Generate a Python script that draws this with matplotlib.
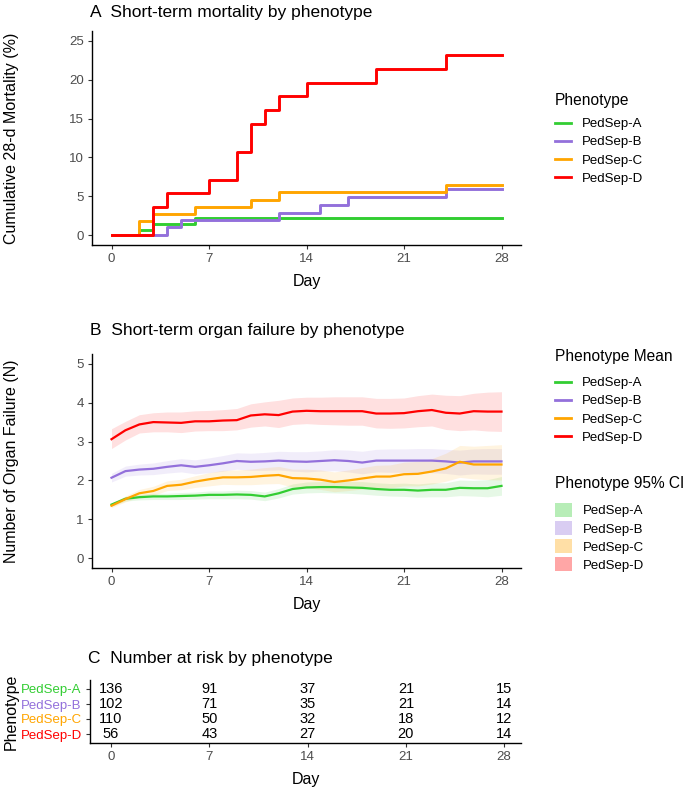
import matplotlib
matplotlib.use("Agg")
import matplotlib.pyplot as plt
from matplotlib.lines import Line2D
from matplotlib.patches import Patch

plt.rcParams['font.family'] = ['Liberation Sans', 'DejaVu Sans']

phenotypes = ["PedSep-A", "PedSep-B", "PedSep-C", "PedSep-D"]
colors = ["#32CD32", "#9370DB", "#FFA500", "#FF0000"]

# A: cumulative 28-day mortality (%), step changes
mort_days = [
    [0, 2, 3, 6, 28],
    [0, 4, 5, 12, 15, 17, 24, 28],
    [0, 2, 3, 6, 10, 12, 24, 28],
    [0, 3, 4, 7, 9, 10, 11, 12, 14, 19, 24, 28],
]
mort_pct = [
    [0, 0.7, 1.5, 2.2, 2.2],
    [0, 1.0, 2.0, 2.9, 3.9, 4.9, 5.9, 5.9],
    [0, 1.8, 2.7, 3.6, 4.5, 5.5, 6.4, 6.4],
    [0, 3.6, 5.4, 7.1, 10.7, 14.3, 16.1, 17.9, 19.6, 21.4, 23.2, 23.2],
]

# B: mean number of organ failures with 95% CI, days 0..28
days = list(range(29))
of_mean = [
    [1.38, 1.53, 1.57, 1.59, 1.59, 1.60, 1.61, 1.63, 1.63, 1.64, 1.63, 1.59, 1.67, 1.78, 1.82,
     1.83, 1.83, 1.82, 1.81, 1.78, 1.76, 1.76, 1.74, 1.76, 1.76, 1.81, 1.80, 1.80, 1.86],
    [2.07, 2.24, 2.28, 2.30, 2.35, 2.39, 2.35, 2.39, 2.44, 2.50, 2.48, 2.49, 2.51, 2.49, 2.48,
     2.50, 2.52, 2.50, 2.46, 2.51, 2.51, 2.51, 2.51, 2.51, 2.49, 2.46, 2.49, 2.49, 2.49],
    [1.35, 1.52, 1.67, 1.73, 1.86, 1.89, 1.97, 2.03, 2.08, 2.08, 2.09, 2.12, 2.14, 2.06, 2.05,
     2.02, 1.96, 2.00, 2.05, 2.10, 2.10, 2.16, 2.17, 2.23, 2.31, 2.48, 2.41, 2.41, 2.41],
    [3.06, 3.29, 3.44, 3.50, 3.49, 3.48, 3.52, 3.52, 3.54, 3.55, 3.67, 3.70, 3.68, 3.77, 3.79,
     3.78, 3.78, 3.78, 3.78, 3.72, 3.72, 3.73, 3.78, 3.81, 3.74, 3.72, 3.78, 3.77, 3.77],
]
of_lower = [
    [1.34, 1.47, 1.50, 1.51, 1.51, 1.51, 1.52, 1.53, 1.53, 1.53, 1.52, 1.48, 1.55, 1.65, 1.68,
     1.69, 1.68, 1.67, 1.65, 1.62, 1.60, 1.59, 1.57, 1.58, 1.58, 1.61, 1.60, 1.58, 1.62],
    [1.96, 2.11, 2.14, 2.15, 2.19, 2.22, 2.17, 2.20, 2.24, 2.29, 2.26, 2.26, 2.27, 2.24, 2.22,
     2.24, 2.25, 2.22, 2.17, 2.22, 2.21, 2.21, 2.20, 2.20, 2.18, 2.14, 2.17, 2.16, 2.16],
    [1.30, 1.45, 1.58, 1.62, 1.74, 1.76, 1.82, 1.86, 1.90, 1.89, 1.89, 1.91, 1.92, 1.83, 1.81,
     1.77, 1.71, 1.74, 1.78, 1.82, 1.81, 1.86, 1.86, 1.91, 1.98, 2.08, 2.04, 2.02, 2.01],
    [2.82, 3.04, 3.22, 3.25, 3.25, 3.23, 3.27, 3.28, 3.28, 3.30, 3.37, 3.40, 3.36, 3.44, 3.46,
     3.44, 3.43, 3.42, 3.42, 3.35, 3.34, 3.35, 3.38, 3.40, 3.31, 3.28, 3.30, 3.27, 3.26],
]
of_upper = [
    [1.42, 1.59, 1.64, 1.67, 1.67, 1.69, 1.70, 1.73, 1.73, 1.75, 1.74, 1.70, 1.79, 1.91, 1.96,
     1.97, 1.98, 1.97, 1.97, 1.94, 1.92, 1.93, 1.91, 1.94, 1.94, 2.01, 2.00, 2.02, 2.10],
    [2.18, 2.37, 2.42, 2.45, 2.51, 2.56, 2.53, 2.58, 2.64, 2.71, 2.70, 2.72, 2.75, 2.74, 2.74,
     2.76, 2.79, 2.78, 2.75, 2.80, 2.81, 2.81, 2.82, 2.82, 2.80, 2.78, 2.81, 2.82, 2.82],
    [1.41, 1.60, 1.77, 1.85, 1.99, 2.03, 2.12, 2.20, 2.26, 2.27, 2.29, 2.33, 2.36, 2.29, 2.29,
     2.27, 2.22, 2.27, 2.33, 2.39, 2.40, 2.47, 2.49, 2.56, 2.70, 2.90, 2.88, 2.90, 2.92],
    [3.33, 3.52, 3.69, 3.74, 3.76, 3.76, 3.79, 3.80, 3.82, 3.85, 3.97, 4.02, 4.06, 4.12, 4.14,
     4.14, 4.15, 4.15, 4.15, 4.11, 4.11, 4.12, 4.18, 4.22, 4.19, 4.18, 4.24, 4.27, 4.28],
]

# C: number at risk
risk_days = [0, 7, 14, 21, 28]
risk_counts = [
    [136, 91, 37, 21, 15],
    [102, 71, 35, 21, 14],
    [110, 50, 32, 18, 12],
    [56, 43, 27, 20, 14],
]

W, H = 685, 787
fig = plt.figure(figsize=(W / 100, H / 100), dpi=100)


def px_axes(left, top, right, bottom):
    return fig.add_axes([left / W, 1 - bottom / H, (right - left) / W, (bottom - top) / H])


def style(ax):
    for s in ["top", "right"]:
        ax.spines[s].set_visible(False)
    for s in ["left", "bottom"]:
        ax.spines[s].set_linewidth(1.0)
        ax.spines[s].set_color("black")
    ax.tick_params(direction="out", length=3, width=0.8, color="#333333",
                   labelcolor="#4D4D4D", labelsize=9.5, pad=3)
    ax.set_xlim(-1.4, 29.4)
    ax.set_xticks([0, 7, 14, 21, 28])


def legend_block(handles, title, title_y, entries_top, **kw):
    fig.text(555 / W, 1 - title_y / H, title, fontsize=11.2, va="center", ha="left")
    fig.legend(handles, phenotypes, loc="upper left", bbox_to_anchor=(555 / W, 1 - entries_top / H),
               frameon=False, fontsize=9.5, borderpad=0, borderaxespad=0,
               handletextpad=0.8, **kw)


# ---- Panel A ----
axA = px_axes(92, 31, 521, 245)
style(axA)
for i in range(4):
    axA.step(mort_days[i], mort_pct[i], where="post", color=colors[i], lw=2.1)
axA.set_ylim(-1.25, 26.25)
axA.set_yticks([0, 5, 10, 15, 20, 25])
axA.set_xlabel("Day", fontsize=11.5, labelpad=6)
axA.set_ylabel("Cumulative 28-d Mortality (%)", fontsize=11.5)
axA.yaxis.set_label_coords((19 - 92) / 429, 0.5)
fig.text(90 / W, 1 - 12 / H, "A  Short-term mortality by phenotype", fontsize=12.5, va="center")

legend_block([Line2D([0], [0], color=c, lw=2) for c in colors], "Phenotype", 100, 118,
             handlelength=1.2, labelspacing=0.45)

# ---- Panel B ----
axB = px_axes(92, 354, 521, 568)
style(axB)
for i in range(4):
    axB.fill_between(days, of_lower[i], of_upper[i], color=colors[i], alpha=0.12, lw=0)
for i in range(4):
    axB.plot(days, of_mean[i], color=colors[i], lw=1.6)
axB.set_ylim(-0.25, 5.25)
axB.set_yticks([0, 1, 2, 3, 4, 5])
axB.set_xlabel("Day", fontsize=11.5, labelpad=6)
axB.set_ylabel("Number of Organ Failure (N)", fontsize=11.5)
axB.yaxis.set_label_coords((19 - 92) / 429, 0.5)
fig.text(90 / W, 1 - 330 / H, "B  Short-term organ failure by phenotype", fontsize=12.5, va="center")

legend_block([Line2D([0], [0], color=c, lw=2) for c in colors], "Phenotype Mean", 357, 377,
             handlelength=1.2, labelspacing=0.45)
legend_block([Patch(facecolor=c, alpha=0.35, lw=0) for c in colors], "Phenotype 95% CI", 484, 503,
             handlelength=1.3, handleheight=1.25, labelspacing=0.28)

# ---- Panel C ----
axC = px_axes(90, 680, 521, 743)
style(axC)
axC.set_xlim(-1.5, 29.2)
for i in range(4):
    for d, n in zip(risk_days, risk_counts[i]):
        axC.text(d, i + 1, str(n), ha="center", va="center", fontsize=10.5, color="black")
axC.set_ylim(4.6, 0.4)
axC.set_yticks([1, 2, 3, 4])
axC.set_yticklabels(phenotypes)
for lab, c in zip(axC.get_yticklabels(), colors):
    lab.set_color(c)
    lab.set_fontsize(9.5)
axC.set_xlabel("Day", fontsize=11.5, labelpad=6)
axC.set_ylabel("Phenotype", fontsize=11.5)
axC.yaxis.set_label_coords((19 - 90) / 431, 0.5)
fig.text(88 / W, 1 - 658 / H, "C  Number at risk by phenotype", fontsize=12.5, va="center")

fig.savefig("out.png", dpi=100)
